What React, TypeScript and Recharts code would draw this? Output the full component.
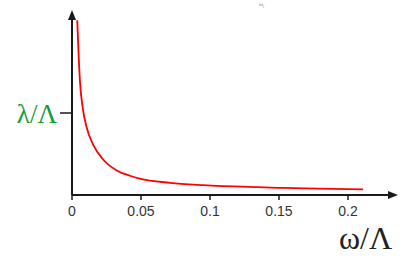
import React from "react";
import { Line, LineChart, XAxis, YAxis } from "recharts";

// omega / Lambda
const omega = [0.0038, 0.0046, 0.0058, 0.0078, 0.0107, 0.0154, 0.0227, 0.0324, 0.042, 0.049, 0.071, 0.095, 0.134, 0.153, 0.178, 0.211];
// lambda / Lambda (tick at 1)
const lambda = [2.13, 1.79, 1.38, 1.06, 0.82, 0.61, 0.43, 0.3, 0.235, 0.2, 0.148, 0.12, 0.095, 0.086, 0.077, 0.068];

const xTicks = [0, 0.05, 0.1, 0.15, 0.2];
const xTickLabels = ["0", "0.05", "0.1", "0.15", "0.2"];
const yTicks = [1];

const data = omega.map((w, i) => ({ w, l: lambda[i] }));

export default function App() {
	return (
		<div style={{ position: "absolute", left: 0, top: 0, width: 415, height: 263, background: "#fff" }}>
			<svg width="0" height="0" style={{ position: "absolute" }}>
				<defs>
					<marker id="arrowHead" viewBox="0 0 10 8" refX="0" refY="4" markerWidth="10" markerHeight="8"
						markerUnits="userSpaceOnUse" orient="auto-start-reverse">
						<path d="M0,0 L10,4 L0,8 z" fill="#1a1a1a" />
					</marker>
				</defs>
			</svg>
			<LineChart width={415} height={263} data={data} margin={{ top: 20, right: 27, bottom: 0, left: 0 }}>
				<XAxis
					type="number"
					dataKey="w"
					domain={[0, 0.229]}
					ticks={xTicks}
					tickFormatter={(v: number) => xTickLabels[xTicks.indexOf(v)] ?? String(v)}
					allowDataOverflow
					height={68}
					tickSize={5}
					tickMargin={6}
					axisLine={{ stroke: "#1a1a1a", strokeWidth: 2, markerEnd: "url(#arrowHead)" }}
					tickLine={{ stroke: "#1a1a1a", strokeWidth: 1.5 }}
					tick={{ fill: "#333", fontSize: 14, fontFamily: "Liberation Sans, Arial, sans-serif" }}
				/>
				<YAxis
					type="number"
					dataKey="l"
					domain={[0, 2.134]}
					ticks={yTicks}
					tickFormatter={() => "λ/Λ"}
					allowDataOverflow
					width={72}
					tickSize={12}
					tickMargin={3}
					axisLine={{ stroke: "#1a1a1a", strokeWidth: 2, markerStart: "url(#arrowHead)" }}
					tickLine={{ stroke: "#1a1a1a", strokeWidth: 1.5 }}
					tick={{ fill: "#169b3c", fontSize: 27, fontFamily: "Liberation Serif, Times New Roman, serif" }}
				/>
				<Line
					type="monotone"
					dataKey="l"
					stroke="#ff0000"
					strokeWidth={1.8}
					dot={false}
					isAnimationActive={false}
				/>
			</LineChart>
			<div style={{ position: "absolute", left: 339, top: 222, fontSize: 32, fontFamily: "Liberation Serif, Times New Roman, serif", color: "#222", lineHeight: 1 }}>
				ω/Λ
			</div>
			<div style={{ position: "absolute", left: 259, top: 1, fontSize: 6, fontFamily: "Liberation Serif, serif", color: "#888", lineHeight: 1 }}>
				ω<sub style={{ fontSize: 4 }}>i</sub>
			</div>
		</div>
	);
}
